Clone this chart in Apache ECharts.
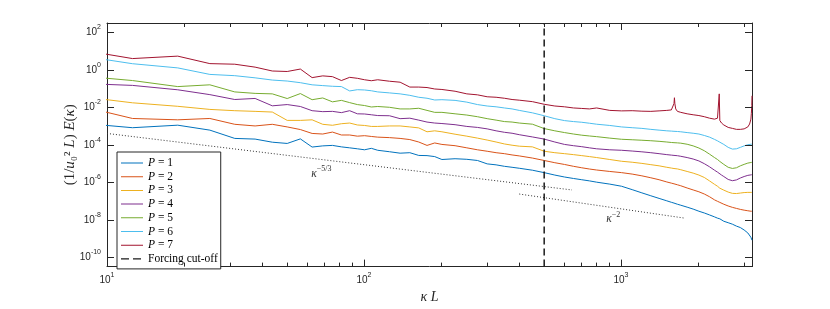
<!DOCTYPE html>
<html><head><meta charset="utf-8">
<script src="https://cdn.jsdelivr.net/npm/echarts@6/dist/echarts.min.js"></script>
<style>html,body{margin:0;padding:0;background:#fff}#c{width:830px;height:309px}</style>
</head><body><div id="c"></div>
<script>
// ---- data (kappa = 2*pi*n, energy values read as log10 E) ----
const TWO_PI = 2 * Math.PI;
const modeN = [1,2,3,4,5,6,7,8,9,10,11,12,13,14,15,16,17,18,20,22,24,26,28,30,32,36,40,44,48,52,56,60,64,72,80,88,96,104,112,120,128,144,160,176,192,208,224,240,250,254,256,257,258,260,264,272,288,304,320,336,352,368,378,382,384,386,392,400,416,432,448,464,480,496,504,510,512,514,515];

const log10E_P1 = [-2.724,-3.088,-2.953,-3.217,-3.659,-3.695,-3.861,-3.928,-3.684,-4.120,-4.058,-4.032,-4.110,-4.162,-4.214,-4.266,-4.188,-4.292,
 -4.370,-4.447,-4.421,-4.567,-4.577,-4.629,-4.785,
 -4.743,-4.774,-4.837,-5.018,-5.070,-5.148,-5.200,-5.252,
 -5.356,-5.485,-5.615,-5.719,-5.797,-5.864,-5.926,-5.994,
 -6.098,-6.212,-6.393,-6.565,-6.720,-6.860,-6.990,
 -7.068,-7.094,-7.110,-7.120,-7.125,-7.146,-7.172,-7.224,
 -7.327,-7.431,-7.545,-7.639,-7.743,-7.846,
 -7.914,-7.935,-8.002,-7.950,-8.028,-8.080,
 -8.158,-8.236,-8.340,-8.417,-8.547,-8.703,
 -8.807,-8.937,-8.988,-9.040,-9.092];
const log10E_P2 = [-1.603,-2.595,-2.667,-2.595,-2.906,-2.994,-2.906,-3.046,-3.186,-3.394,-3.425,-3.321,-3.477,-3.477,-3.539,-3.513,-3.555,-3.591,
 -3.617,-3.659,-3.721,-3.851,-4.033,-3.902,-3.980,
 -4.048,-4.162,-4.266,-4.344,-4.421,-4.473,-4.541,-4.593,
 -4.707,-4.837,-4.956,-5.049,-5.148,-5.226,-5.293,-5.345,
 -5.423,-5.485,-5.563,-5.656,-5.760,-5.864,-5.983,
 -6.046,-6.066,-6.082,-6.087,-6.092,-6.108,-6.134,-6.186,
 -6.305,-6.409,-6.508,-6.627,-6.772,-6.938,
 -7.016,-7.042,-7.058,-7.073,-7.120,-7.172,
 -7.265,-7.338,-7.395,-7.447,-7.488,-7.520,
 -7.535,-7.545,-7.545,-7.545,-7.545];
const log10E_P3 = [-1.256,-1.759,-1.946,-2.112,-2.180,-2.216,-2.252,-2.698,-2.698,-2.667,-2.906,-2.958,-2.875,-2.839,-2.942,-2.968,-3.020,-3.020,
 -2.994,-2.994,-3.046,-3.098,-3.306,-3.254,-3.306,
 -3.435,-3.539,-3.643,-3.747,-3.851,-3.954,-4.022,-4.074,
 -4.110,-4.343,-4.421,-4.473,-4.525,-4.577,-4.629,-4.681,
 -4.785,-4.878,-4.930,-4.992,-5.060,-5.122,-5.200,
 -5.241,-5.259,-5.266,-5.268,-5.271,-5.278,-5.288,-5.330,
 -5.423,-5.511,-5.615,-5.745,-5.927,-6.108,
 -6.212,-6.264,-6.290,-6.316,-6.367,-6.419,
 -6.523,-6.591,-6.601,-6.575,-6.549,-6.539,
 -6.539,-6.539,-6.539,-6.539,-6.539];
const log10E_P4 = [-0.673,-0.830,-1.064,-1.323,-1.583,-1.526,-1.920,-1.853,-1.956,-2.180,-2.231,-2.216,-2.283,-2.180,-2.346,-2.356,-2.398,-2.439,
 -2.449,-2.605,-2.579,-2.683,-2.787,-2.839,-2.865,
 -2.927,-3.020,-3.072,-3.150,-3.254,-3.332,-3.383,-3.461,
 -3.581,-3.695,-3.851,-3.980,-4.048,-4.100,-4.162,-4.214,
 -4.266,-4.292,-4.333,-4.375,-4.421,-4.473,-4.525,
 -4.551,-4.563,-4.566,-4.567,-4.568,-4.571,-4.582,-4.613,
 -4.681,-4.759,-4.862,-5.008,-5.174,-5.355,
 -5.459,-5.511,-5.537,-5.558,-5.615,-5.693,
 -5.849,-5.916,-5.874,-5.771,-5.693,-5.631,
 -5.615,-5.605,-5.600,-5.599,-5.599];
const log10E_P5 = [-0.206,-0.571,-0.893,-0.799,-1.178,-1.256,-1.282,-1.531,-1.266,-1.593,-1.500,-1.707,-1.629,-1.749,-1.853,-1.905,-1.982,-1.956,
 -1.998,-2.086,-2.086,-2.050,-2.164,-2.268,-2.268,
 -2.346,-2.413,-2.501,-2.605,-2.683,-2.760,-2.786,-2.839,
 -2.900,-3.134,-3.254,-3.347,-3.425,-3.487,-3.529,-3.565,
 -3.643,-3.705,-3.731,-3.757,-3.783,-3.814,-3.851,
 -3.876,-3.885,-3.887,-3.888,-3.889,-3.891,-3.897,-3.913,
 -3.970,-4.058,-4.172,-4.318,-4.499,-4.681,
 -4.785,-4.837,-4.862,-4.888,-4.966,-5.044,
 -5.200,-5.262,-5.226,-5.122,-5.044,-4.977,
 -4.956,-4.945,-4.940,-4.935,-4.935];
const log10E_P6 = [0.958,0.327,0.104,-0.244,-0.311,-0.426,-0.545,-0.597,-0.685,-0.799,-0.841,-0.877,-0.893,-1.126,-1.059,-1.074,-1.116,-1.178,
 -1.230,-1.282,-1.360,-1.463,-1.515,-1.609,-1.593,
 -1.630,-1.723,-1.853,-1.930,-1.972,-2.034,-2.086,-2.164,
 -2.294,-2.449,-2.605,-2.709,-2.760,-2.797,-2.849,-2.901,
 -2.968,-3.046,-3.088,-3.124,-3.176,-3.217,-3.254,
 -3.269,-3.278,-3.280,-3.281,-3.282,-3.284,-3.290,-3.306,
 -3.347,-3.383,-3.425,-3.503,-3.591,-3.711,
 -3.789,-3.825,-3.840,-3.861,-3.902,-3.980,
 -4.136,-4.229,-4.214,-4.136,-4.058,-3.996,
 -3.980,-3.970,-3.970,-3.965,-3.965];
const log10E_P7 = [1.292,0.602,0.732,0.332,0.301,0.145,-0.062,-0.088,0.042,-0.415,-0.322,-0.363,-0.571,-0.400,-0.451,-0.529,-0.581,-0.529,
 -0.607,-0.659,-0.919,-0.919,-0.944,-1.022,-1.048,
 -1.142,-1.282,-1.334,-1.437,-1.463,-1.515,-1.583,-1.619,
 -1.697,-1.837,-1.930,-1.972,-2.034,-2.060,-2.086,-2.034,
 -2.164,-2.190,-2.180,-2.206,-2.216,-2.190,-2.164,
 -2.138,-2.060,-1.801,-1.489,-1.801,-2.086,-2.216,-2.268,
 -2.346,-2.398,-2.439,-2.501,-2.579,-2.631,
 -2.579,-2.620,-1.282,-2.700,-2.839,-2.942,
 -3.072,-3.124,-3.176,-3.176,-3.150,-3.046,
 -2.891,-2.631,-2.320,-1.904,-1.386];

const seriesNames = ['P = 1','P = 2','P = 3','P = 4','P = 5','P = 6','P = 7'];
const cutoffName = 'Forcing cut-off';
const cutoffN = 80;
// reference slopes (kappa, log10 E)
const ref53K = [10, 645];
const ref53LogE = [-3.394, -6.410];
const ref2K = [402, 1755];
const ref2LogE = [-6.627, -7.906];
// annotations (kappa, log10 E, exponent text)
const annotK = [62.3, 877];
const annotLogE = [-5.537, -7.976];
const annotExp = ['\u22125/3', '\u22122'];
// axes
const yLimExp = [-10.5, 2.5];
const yTickExp = [-10, -8, -6, -4, -2, 0, 2];
const xMinorTicks = [20,30,40,50,60,70,80,90,200,300,400,500,600,700,800,900,2000,3000];

// ---- build ----
const colors = ['#0072BD','#D95319','#EDB120','#7E2F8E','#77AC30','#4DBEEE','#A2142F'];
const allLog = [log10E_P1,log10E_P2,log10E_P3,log10E_P4,log10E_P5,log10E_P6,log10E_P7];
const kappa = modeN.map(n => TWO_PI * n);
const xMin = 10, xMax = kappa[kappa.length - 1];
const yMin = Math.pow(10, yLimExp[0]), yMax = Math.pow(10, yLimExp[1]);
const axisColor = '#262626';
const tickFont = 'Liberation Sans, Arial, Helvetica, sans-serif';
const serif = 'Liberation Serif, Times New Roman, serif';
const tickRich = {
  b: {fontSize: 10, fontFamily: tickFont, color: axisColor},
  s: {fontSize: 7, fontFamily: tickFont, color: axisColor, padding: [0,0,10,0]}
};
// legend icons: thin line (solid) and dashed line, with invisible bounds 22x10
const bounds = 'M0,0h0.01v0.01h-0.01zM21.99,9.99h0.01v0.01h-0.01z';
const solidIcon = 'path://' + bounds + 'M0,4.5h22v1h-22z';
const dashIcon = 'path://' + bounds + 'M0,4.35h8v1.3h-8zM12,4.35h8v1.3h-8z';

const series = [];
allLog.forEach((arr, i) => {
  series.push({
    name: seriesNames[i], type: 'line', symbol: 'none', showSymbol: false,
    data: arr.map((v, j) => [kappa[j], Math.pow(10, v)]),
    lineStyle: {color: colors[i], width: 1}, itemStyle: {color: colors[i]},
    clip: true, z: 3 + i, animation: false
  });
});
series.push({
  name: cutoffName, type: 'line', symbol: 'none',
  data: [[TWO_PI * cutoffN, yMin], [TWO_PI * cutoffN, yMax]],
  lineStyle: {color: '#1a1a1a', width: 1.5, type: [7, 4]}, itemStyle: {color: '#1a1a1a'},
  z: 12, animation: false
});
[[ref53K, ref53LogE], [ref2K, ref2LogE]].forEach(([ks, ls]) => {
  series.push({
    name: 'ref', type: 'line', symbol: 'none',
    data: ks.map((k, j) => [k, Math.pow(10, ls[j])]),
    lineStyle: {color: '#333', width: 1, type: [1, 2]}, z: 2, animation: false
  });
});
// annotations
series.push({
  type: 'custom', coordinateSystem: 'cartesian2d', clip: false, silent: true, z: 20,
  data: annotK.map((k, j) => [k, Math.pow(10, annotLogE[j]), j]),
  renderItem(params, api) {
    const p = api.coord([api.value(0), api.value(1)]);
    const j = api.value(2);
    return {type: 'text', x: p[0], y: p[1], style: {
      text: '{k|\u03BA}{s|' + annotExp[j] + '}', align: 'left', verticalAlign: 'middle',
      rich: {k: {fontSize: 11.5, fontFamily: serif, fontStyle: 'italic', fill: '#333'},
             s: {fontSize: 8, fontFamily: serif, fill: '#333', padding: [0,0,9,0]}}
    }};
  }
});
// y ticks + labels (every two decades)
series.push({
  type: 'custom', coordinateSystem: 'cartesian2d', clip: false, silent: true, z: 20,
  data: yTickExp.map(e => [xMin, Math.pow(10, e), e]),
  renderItem(params, api) {
    const cs = params.coordSys;
    const y = Math.round(api.coord([api.value(0), api.value(1)])[1]) + 0.5;
    const e = api.value(2);
    const L = cs.x, R = cs.x + cs.width;
    return {type: 'group', children: [
      {type: 'line', shape: {x1: L, y1: y, x2: L + 7, y2: y}, style: {stroke: axisColor, lineWidth: 1}},
      {type: 'line', shape: {x1: R - 7, y1: y, x2: R, y2: y}, style: {stroke: axisColor, lineWidth: 1}},
      {type: 'text', x: L - 6, y: y, style: {text: '{b|10}{s|' + e + '}', align: 'right', verticalAlign: 'middle',
        rich: {b: {fontSize: 10, fontFamily: tickFont, fill: axisColor},
               s: {fontSize: 7, fontFamily: tickFont, fill: axisColor, padding: [0,0,10,0]}}}}
    ]};
  }
});
// x minor ticks
series.push({
  type: 'custom', coordinateSystem: 'cartesian2d', clip: false, silent: true, z: 20,
  data: xMinorTicks.map(k => [k, yMin]),
  renderItem(params, api) {
    const cs = params.coordSys;
    const x = Math.round(api.coord([api.value(0), api.value(1)])[0]) + 0.5;
    const T = cs.y, B = cs.y + cs.height;
    return {type: 'group', children: [
      {type: 'line', shape: {x1: x, y1: B, x2: x, y2: B - 4}, style: {stroke: axisColor, lineWidth: 1}},
      {type: 'line', shape: {x1: x, y1: T, x2: x, y2: T + 4}, style: {stroke: axisColor, lineWidth: 1}}
    ]};
  }
});

const xAxisBase = {
  type: 'log', logBase: 10, min: xMin, max: xMax, splitNumber: 2,
  axisLine: {show: true, lineStyle: {color: axisColor, width: 1}},
  axisTick: {show: true, inside: true, length: 7, lineStyle: {color: axisColor}},
  splitLine: {show: false}, minorTick: {show: false}
};
const yAxisBase = {
  type: 'log', logBase: 10, min: yMin, max: yMax,
  axisLine: {show: true, lineStyle: {color: axisColor, width: 1}},
  axisTick: {show: false}, axisLabel: {show: false}, splitLine: {show: false}
};

const legendRich = {
  i: {fontFamily: serif, fontStyle: 'italic', fontSize: 11.5, color: '#000', lineHeight: 12},
  n: {fontFamily: serif, fontSize: 11.5, color: '#000', lineHeight: 12}
};

const option = {
  animation: false,
  backgroundColor: '#fff',
  grid: {left: 107, top: 23, width: 645, height: 251, containLabel: false},
  xAxis: [
    Object.assign({}, xAxisBase, {
      position: 'bottom',
      axisLabel: {show: true, margin: 5, showMaxLabel: false, showMinLabel: true,
        formatter: v => '{b|10}{s|' + Math.round(Math.log10(v)) + '}', rich: tickRich},
      name: '{i|\u03BA} {i|L}', nameLocation: 'middle', nameGap: 16,
      nameTextStyle: {rich: {i: {fontFamily: serif, fontStyle: 'italic', fontSize: 14, color: axisColor}}}
    }),
    Object.assign({}, xAxisBase, {position: 'top', axisLabel: {show: false}})
  ],
  yAxis: [
    Object.assign({}, yAxisBase, {
      position: 'left',
      name: '{n|(1/}{i|u}{n|\u2080\u00B2}{i| L}{n|) }{i|E}{n|(}{i|\u03BA}{n|)}',
      nameLocation: 'middle', nameGap: 29, nameRotate: 90,
      nameTextStyle: {rich: {
        n: {fontFamily: serif, fontSize: 15, color: axisColor},
        i: {fontFamily: serif, fontStyle: 'italic', fontSize: 15, color: axisColor}}}
    }),
    Object.assign({}, yAxisBase, {position: 'right'})
  ],
  legend: {
    data: seriesNames.map(n => ({name: n, icon: solidIcon})).concat([{name: cutoffName, icon: dashIcon}]),
    orient: 'vertical', left: 117, top: 152,
    itemWidth: 22, itemHeight: 10, itemGap: 1.7,
    padding: [5, 3, 4, 4],
    borderColor: axisColor, borderWidth: 1, backgroundColor: '#fff',
    formatter: name => name.startsWith('P') ? '{i|P}{n|' + name.slice(1) + '}' : '{n|' + name + '}',
    textStyle: {fontFamily: serif, fontSize: 11.5, color: '#000', lineHeight: 12, rich: legendRich}
  },
  series: series
};

const chart = echarts.init(document.getElementById('c'), null, {renderer: 'canvas'});
chart.setOption(option);
</script>
</body></html>
